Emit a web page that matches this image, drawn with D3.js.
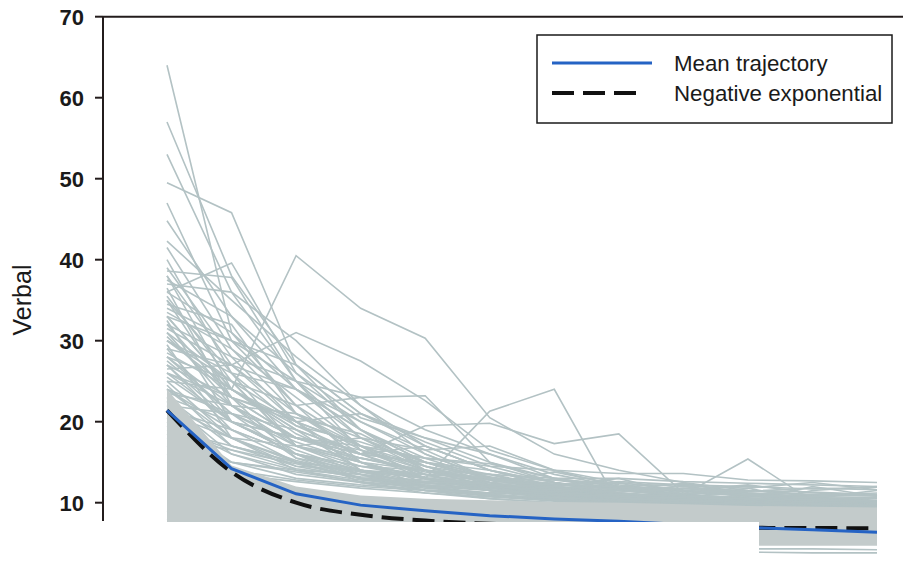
<!DOCTYPE html>
<html lang="en">
  <head>
    <meta charset="UTF-8" />
    <title>Verbal trajectories</title>
    <script src="https://d3js.org/d3.v7.min.js"></script>
    <style>
      body {
        margin: 0;
        background: #fff;
      }
      .tick-label {
        font-family: "Liberation Sans", Arial, sans-serif;
        font-size: 22px;
        font-weight: bold;
        fill: #1a1a1a;
      }
      .axis-title,
      .legend-text {
        font-family: "Liberation Sans", Arial, sans-serif;
        fill: #1a1a1a;
      }
    </style>
  </head>
  <body>
    <svg width="903" height="575"></svg>
    <script>
      const times = [0, 1, 2, 3, 4, 5, 6, 7, 8, 9, 10, 11];
      const yTicks = [10, 20, 30, 40, 50, 60, 70];

      const meanTrajectory = [21.4, 14.2, 11.1, 9.7, 9.0, 8.4, 8.0, 7.7, 7.3, 6.95, 6.65, 6.35];
      const negExponential = [21.4, 13.8, 10.0, 8.5, 7.8, 7.4, 7.15, 7.0, 6.93, 6.9, 6.87, 6.85];

      // solid part of the cloud where the lines overlap completely
      const bandHigh = [24, 14.6, 12.0, 10.9, 10.5, 10.3, 10.1, 10.0, 9.8, 9.6, 9.5, 9.4];
      const bandLow = [4.7, 4.7, 4.7, 4.7, 4.7, 4.7, 4.7, 4.7, 4.7, 4.7, 4.7, 4.7];

      // individual trajectories (one value per time point)
      const trajectories = [
        [64, 31, 24, 18, 15, 13, 12, 11, 10, 10.5, 9.8, 9.5],
        [57, 38, 27, 21, 17, 14, 12.5, 11, 10, 9.6, 9.4, 9.2],
        [53, 36, 25, 20, 16, 13, 11.5, 10.8, 10.2, 9.8, 9.5, 9.3],
        [49.5, 45.8, 27, 21, 18, 15, 13, 12, 11, 10.5, 10.2, 10],
        [33, 24, 40.5, 34, 30.3, 20.5, 16, 14, 12.5, 11.5, 11, 10.8],
        [38, 27, 31, 27.5, 22.6, 16.5, 14, 12, 11.5, 11, 10.5, 10],
        [36, 39.6, 26, 19, 15, 13, 11.5, 10.5, 10, 9.8, 9.5, 9.3],
        [30, 25, 20, 17, 13, 21.3, 24, 9.8, 10.5, 10, 9.8, 9.6],
        [28, 22, 18, 16, 19.5, 19.8, 17.3, 18.5, 11.2, 10, 9.8, 9.5],
        [26, 20, 16, 14, 13, 12, 11.5, 11, 11, 15.4, 10.2, 9.8],
        [47, 30, 22, 17, 14, 12, 11, 10.5, 10, 9.6, 9.4, 9.2],
        [44.8, 33, 24, 19, 15.5, 13, 11.8, 11, 10.4, 10, 9.7, 9.5],
        [42.3, 35, 28, 22, 17, 14, 12, 11, 10.5, 10.2, 9.9, 9.6],
        [41.5, 29, 21, 16.5, 14, 12.5, 11.5, 10.8, 10.3, 10, 9.8, 9.6],
        [38.6, 37.8, 25, 18, 14.5, 12.5, 11, 10.3, 10, 9.7, 9.5, 9.3],
        [37, 36, 30, 22, 16, 13, 11.5, 10.6, 10.1, 9.9, 9.6, 9.4],
        [39, 28, 25, 23, 23.2, 15, 12.5, 11.2, 10.6, 10.2, 9.9, 9.7],
        [36, 31, 22, 23, 19, 16, 13, 11.5, 10.8, 10.4, 10.1, 9.8],
        [35, 26, 24, 20, 16.5, 17, 14, 12.5, 11.5, 10.8, 10.4, 10.1],
        [34, 30, 27, 19, 15, 13.5, 12, 11.2, 10.7, 10.3, 10, 9.8],
        [33, 24, 19, 16, 13.5, 12, 11, 10.4, 10, 9.7, 9.5, 9.3],
        [32, 28, 20, 15, 12.5, 11.5, 10.8, 10.2, 9.8, 9.5, 9.3, 9.1],
        [31, 22, 21, 18, 14, 12, 11, 10.2, 9.8, 9.6, 9.4, 9.2],
        [30, 26, 17, 14, 12.5, 13.5, 11.5, 10.5, 10, 9.8, 9.5, 9.3],
        [29, 20, 16, 13.5, 12, 11, 10.4, 10, 9.7, 9.5, 9.3, 9.1],
        [28, 25, 22, 15, 13, 11.5, 10.8, 10.2, 9.9, 9.6, 9.4, 9.2],
        [27, 19, 15, 13, 12, 11.2, 12.5, 11, 10.2, 9.8, 9.5, 9.3],
        [26, 23, 18, 17, 13, 11.5, 10.6, 10, 9.7, 9.5, 9.3, 9.2],
        [25, 18, 14, 12.5, 11.5, 10.8, 10.3, 9.9, 9.6, 9.4, 9.2, 9.1],
        [24, 21, 19, 14, 12, 11, 10.4, 9.9, 9.6, 9.4, 9.2, 9.0],
        [35.5, 25, 17, 15, 13, 12.2, 11.3, 10.8, 12.2, 10.5, 10, 9.7],
        [33.5, 29, 23, 17, 14.5, 12.5, 11.2, 10.5, 10, 9.7, 9.5, 9.3],
        [32.5, 20, 18, 16, 15, 13, 11.8, 11, 10.5, 10.2, 12, 10.8],
        [31.5, 27, 24, 19, 14, 12, 10.8, 10.2, 9.8, 9.6, 9.4, 9.2],
        [30.5, 23, 15.5, 13, 12.5, 12, 11.5, 10.6, 10.1, 9.8, 9.6, 9.4],
        [29.5, 18, 14.5, 14, 13.5, 11.5, 10.5, 10, 9.7, 9.5, 9.3, 9.2],
        [28.5, 24, 19, 16, 17, 14, 12, 13, 11, 10.2, 9.9, 9.6],
        [27.5, 21, 17.5, 15, 13, 11.8, 11, 10.4, 10, 9.8, 11.5, 12],
        [26.5, 27, 20, 14, 12, 11, 10.4, 10, 9.8, 9.6, 9.4, 9.2],
        [25.5, 20, 16, 14.5, 14, 13, 12, 11, 10.5, 11.8, 10.2, 9.8],
        [24.5, 17, 15, 13, 12.5, 11.5, 10.8, 10.2, 9.9, 9.6, 9.4, 9.2],
        [23.5, 22, 17, 15, 12, 10.8, 10.2, 9.8, 9.5, 9.3, 9.1, 9.0],
        [22.5, 16, 13.5, 12.5, 12, 11.8, 11, 12.5, 10.5, 10, 9.7, 9.5],
        [21.5, 19, 16, 12.5, 11.2, 10.5, 10, 9.7, 9.5, 9.3, 9.2, 9.0],
        [20.5, 15, 14, 13.5, 11.5, 10.5, 10, 9.8, 9.6, 9.4, 9.3, 9.1],
        [36.5, 22, 16, 13, 11.5, 11, 10.5, 10, 9.7, 9.5, 9.3, 9.2],
        [34.5, 32, 21, 16, 13, 11.5, 10.8, 10.3, 10, 9.8, 9.6, 9.4],
        [38, 24, 18.5, 15, 14, 12.8, 11.6, 10.8, 10.3, 10, 9.8, 9.6],
        [40, 26, 19.5, 17.5, 15, 12.5, 11, 10.4, 10, 9.8, 9.6, 9.4],
        [37.5, 33, 26, 20.5, 18, 16, 13.5, 12, 11, 10.5, 10.1, 9.9],
        [35, 23, 20, 21, 17.5, 14.5, 12.5, 11.5, 10.8, 10.4, 10.1, 9.9],
        [33, 30, 25, 16.5, 13.5, 13, 12.8, 11.8, 11, 10.6, 10.3, 10],
        [31, 25, 17, 18, 16.5, 13, 11.5, 10.8, 10.3, 10, 9.8, 9.6],
        [29, 27, 21, 17, 15.5, 14.8, 13, 12, 12.3, 11.2, 10.7, 10.3],
        [27, 23, 20.5, 18.5, 14.5, 12.2, 11.2, 10.5, 10.1, 9.8, 9.6, 9.4],
        [25, 24, 19.5, 16, 15, 14, 12.5, 11.6, 10.9, 10.4, 10.6, 11.5],
        [23, 20, 18, 16.5, 14.5, 13.2, 12, 11.2, 10.6, 10.2, 9.9, 9.7],
        [22, 21, 15.5, 14, 13, 12.5, 13.8, 12.2, 11.4, 10.8, 10.4, 10.1],
        [21, 18, 17, 15.5, 13.8, 12.8, 11.8, 11.5, 12, 11, 10.6, 10.2],
        [19, 17, 15, 14, 13, 12, 11.3, 10.8, 10.4, 10.1, 9.9, 9.7],
        [18, 16.5, 14.8, 13, 12.2, 11.6, 11, 10.6, 10.2, 10, 9.8, 9.6],
        [17, 15, 13.8, 12.6, 11.8, 11.2, 10.8, 11.5, 12.4, 11.2, 10.6, 10.2],
        [16, 14, 12.8, 12, 11.5, 11, 10.6, 10.3, 10, 9.8, 9.6, 9.5],
        [15, 13.5, 12.6, 11.8, 11.2, 10.7, 10.3, 10, 9.8, 9.6, 9.5, 9.4],
        [30, 24, 20, 17, 15.5, 14.5, 14, 13.6, 13.6, 12.8, 12.7, 12.5],
        [26, 22, 18, 15.5, 14, 13.5, 13, 13, 12.6, 12.4, 12.2, 12],
        [24, 19, 16, 14.5, 13.5, 13, 12.8, 12.4, 12, 11.8, 12.5, 11.6],
        [22, 18, 15, 13.8, 13.2, 12.8, 12.2, 11.8, 11.5, 12.2, 11.2, 11],
        [20, 16, 14, 12.8, 12, 11.5, 11.2, 11, 10.8, 10.7, 10.9, 11.2],
        [18.5, 15, 13, 12.2, 11.6, 11.2, 11.4, 11.6, 11.2, 10.9, 10.6, 10.5],
        [23, 17, 14.5, 13, 12.4, 12, 11.6, 11.3, 11.8, 11.5, 11.3, 11.0],
        [28, 21, 17, 14.5, 13, 12.2, 11.8, 12, 11.6, 11.4, 11.8, 11.6],
        [24, 18, 15.2, 13.5, 12.6, 12.3, 12, 11.7, 11.4, 11, 10.8, 10.6],
        [19.5, 16.5, 14.2, 13.2, 12.8, 12.5, 12.2, 12.6, 12.2, 12, 11.7, 11.9],
        [27, 20, 16.5, 13.8, 12.2, 11.6, 11, 10.8, 10.6, 10.5, 10.4, 10.6],
        [32, 23, 18, 15.5, 14, 13, 12.4, 11.9, 11.5, 11.2, 11.0, 10.9],
        [9, 7, 6, 5.5, 5, 4.8, 4.6, 4.5, 4.4, 4.3, 4.3, 4.2],
        [8, 6.5, 5.5, 5, 4.5, 4.3, 4.1, 4, 3.9, 3.9, 3.8, 3.8]
      ];

      const svg = d3.select("svg");

      const x = d3.scaleLinear().domain([0, 11]).range([167, 877]);
      const y = d3.scaleLinear().domain([0, 70]).range([583.7, 16.7]);

      const line = d3
        .line()
        .x((d, i) => x(times[i]))
        .y((d) => y(d));

      // grey cloud of individual trajectories
      svg
        .append("g")
        .selectAll("path")
        .data(trajectories)
        .enter()
        .append("path")
        .attr("d", line)
        .attr("fill", "none")
        .attr("stroke", "#b3c2c4")
        .attr("stroke-width", 1.6);

      const band = d3
        .area()
        .x((d, i) => x(times[i]))
        .y0((d, i) => y(bandLow[i]))
        .y1((d) => y(d));

      svg
        .append("path")
        .datum(bandHigh)
        .attr("d", band)
        .attr("fill", "#c3cbcb");

      // negative exponential fit
      svg
        .append("path")
        .datum(negExponential)
        .attr("d", line.curve(d3.curveMonotoneX))
        .attr("fill", "none")
        .attr("stroke", "#111")
        .attr("stroke-width", 4)
        .attr("stroke-dasharray", "22,9");

      line.curve(d3.curveLinear);

      // mean trajectory
      svg
        .append("path")
        .datum(meanTrajectory)
        .attr("d", line)
        .attr("fill", "none")
        .attr("stroke", "#2563c4")
        .attr("stroke-width", 3);

      // the lower part of the figure is blanked out, except at the far right
      svg
        .append("rect")
        .attr("x", 0)
        .attr("y", 522)
        .attr("width", 759)
        .attr("height", 53)
        .attr("fill", "#fff");

      // axes
      const axisColor = "#231c1c";
      svg
        .append("line")
        .attr("x1", 103)
        .attr("x2", 103)
        .attr("y1", y(70))
        .attr("y2", 521)
        .attr("stroke", axisColor)
        .attr("stroke-width", 2);

      svg
        .append("line")
        .attr("x1", 103)
        .attr("x2", 903)
        .attr("y1", y(70))
        .attr("y2", y(70))
        .attr("stroke", axisColor)
        .attr("stroke-width", 2);

      const ticks = svg.append("g").selectAll("g").data(yTicks).enter().append("g");

      ticks
        .append("line")
        .attr("x1", 95)
        .attr("x2", 103)
        .attr("y1", (d) => y(d))
        .attr("y2", (d) => y(d))
        .attr("stroke", axisColor)
        .attr("stroke-width", 2);

      ticks
        .append("text")
        .attr("class", "tick-label")
        .attr("x", 84)
        .attr("y", (d) => y(d))
        .attr("dy", "0.36em")
        .attr("text-anchor", "end")
        .text((d) => d);

      svg
        .append("text")
        .attr("class", "axis-title")
        .attr("transform", "translate(31,300) rotate(-90)")
        .attr("text-anchor", "middle")
        .attr("font-size", 25)
        .text("Verbal");

      // legend
      const legend = svg.append("g");

      legend
        .append("rect")
        .attr("x", 537)
        .attr("y", 35)
        .attr("width", 355)
        .attr("height", 88)
        .attr("fill", "#fff")
        .attr("stroke", "#1a1a1a")
        .attr("stroke-width", 1.5);

      legend
        .append("line")
        .attr("x1", 552)
        .attr("x2", 652)
        .attr("y1", 63)
        .attr("y2", 63)
        .attr("stroke", "#2563c4")
        .attr("stroke-width", 3);

      legend
        .append("line")
        .attr("x1", 552)
        .attr("x2", 641)
        .attr("y1", 93)
        .attr("y2", 93)
        .attr("stroke", "#111")
        .attr("stroke-width", 4)
        .attr("stroke-dasharray", "22,9");

      legend
        .append("text")
        .attr("class", "legend-text")
        .attr("x", 674)
        .attr("y", 71)
        .attr("font-size", 22.3)
        .text("Mean trajectory");

      legend
        .append("text")
        .attr("class", "legend-text")
        .attr("x", 674)
        .attr("y", 101)
        .attr("font-size", 22.3)
        .text("Negative exponential");
    </script>
  </body>
</html>
